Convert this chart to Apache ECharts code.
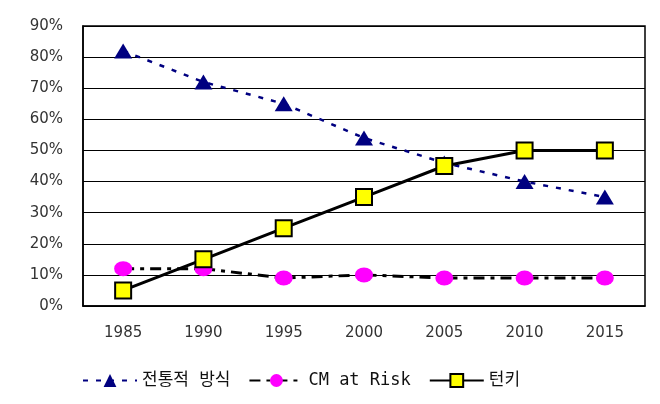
<!DOCTYPE html>
<html><head><meta charset="utf-8">
<script src="https://cdn.jsdelivr.net/npm/echarts@6/dist/echarts.min.js"></script>
<style>html,body{margin:0;padding:0;background:#fff}#c{width:660px;height:404px}</style>
</head><body><div id="c"></div>
<script>
const categories = ['1985','1990','1995','2000','2005','2010','2015'];
const traditional = [82, 72, 65, 54, 46, 40, 35];
const cmAtRisk = [12, 12, 9, 10, 9, 9, 9];
const turnkey = [5, 15, 25, 35, 45, 50, 50];
const seriesNames = ['전통적 방식', 'CM at Risk', '턴키'];

const chart = echarts.init(document.getElementById('c'));
chart.setOption({
  backgroundColor: '#fff',
  animation: false,
  grid: {left: 83, top: 26, right: 15, bottom: 98, show: true, borderColor: '#000', borderWidth: 1.5},
  xAxis: {
    type: 'category', data: categories, boundaryGap: true,
    axisLine: {lineStyle: {color: '#000', width: 1.5}},
    axisTick: {inside: true, length: 6, lineStyle: {color: '#000'}},
    axisLabel: {color: '#333', fontSize: 15, fontFamily: 'DejaVu Sans', margin: 20}
  },
  yAxis: {
    type: 'value', min: 0, max: 90, interval: 10,
    axisLine: {show: true, lineStyle: {color: '#000', width: 1.5}},
    axisTick: {show: false},
    splitLine: {lineStyle: {color: '#000', width: 1}},
    axisLabel: {formatter: '{value}%', color: '#333', fontSize: 15, fontFamily: 'DejaVu Sans', margin: 20}
  },
  legend: {
    left: 77, top: 367, itemWidth: 54, itemHeight: 16, itemGap: 18,
    textStyle: {color: '#111', fontSize: 17, fontFamily: '"DejaVu Sans Mono", "Noto Sans CJK KR"'},
    data: seriesNames
  },
  series: [
    {name: seriesNames[0], type: 'line', data: traditional, symbol: 'triangle', symbolSize: [18, 15],
     itemStyle: {color: '#000080'}, lineStyle: {color: '#000080', width: 2.5, type: [5, 8]}},
    {name: seriesNames[1], type: 'line', data: cmAtRisk, symbol: 'circle', symbolSize: [18, 15],
     itemStyle: {color: '#ff00ff'}, lineStyle: {color: '#000', width: 3, type: [11, 6, 4, 6]}},
    {name: seriesNames[2], type: 'line', data: turnkey, symbol: 'rect', symbolSize: 16,
     itemStyle: {color: '#ffff00', borderColor: '#000', borderWidth: 2}, lineStyle: {color: '#000', width: 3}}
  ]
});
</script></body></html>
